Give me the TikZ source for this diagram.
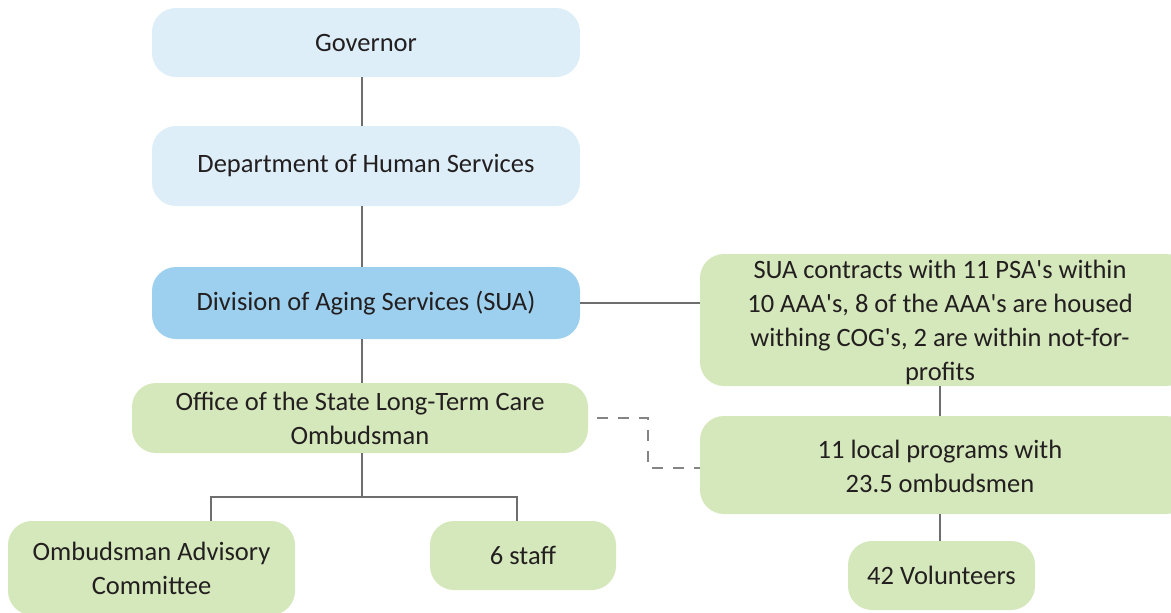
\documentclass[tikz,border=0pt]{standalone}
\usepackage{fontspec}
\setmainfont{Carlito}
\definecolor{lblue}{HTML}{DDEEF8}
\definecolor{mblue}{HTML}{9DD0EE}
\definecolor{lgreen}{HTML}{D5E8BB}
\definecolor{lineg}{HTML}{6E6E6E}
\definecolor{txt}{HTML}{231F20}
\newcommand{\apo}{\textquotesingle}
\tikzset{
  box/.style={rounded corners=24pt, inner sep=0pt, align=center, text=txt,
    font=\fontsize{26.5}{34}\selectfont},
  lb/.style={box, fill=lblue},
  mb/.style={box, fill=mblue},
  gb/.style={box, fill=lgreen},
  tx/.style={text=txt, font=\fontsize{26.5}{34}\selectfont, align=center, inner sep=0pt},
  conn/.style={draw=lineg, line width=2pt},
  dconn/.style={draw=lineg!85, line width=2.2pt, dash pattern=on 11pt off 10pt}
}
\begin{document}
\begin{tikzpicture}[x=1pt,y=-1pt]
\useasboundingbox (0,0) rectangle (1171,613);
\clip (0,0) rectangle (1171,613);
\node[lb, minimum width=428pt, minimum height=69pt] (gov) at (366,42.5) {Governor};
\node[lb, minimum width=428pt, minimum height=80pt] (dhs) at (366,166) {Department of Human Services};
\node[mb, minimum width=428pt, minimum height=72pt] (das) at (366,303) {Division of Aging Services (SUA)};
\node[gb, minimum width=456pt, minimum height=70pt] (off) at (360,418) {Office of the State Long-Term Care\\Ombudsman};
\node[gb, minimum width=287pt, minimum height=94pt] (adv) at (151.5,568) {Ombudsman Advisory\\Committee};
\node[gb, minimum width=186pt, minimum height=69pt] (staff) at (523,555.5) {6 staff};
\node[gb, minimum width=490pt, minimum height=132pt] (sua) at (945,320) {};
\node[tx] (suat) at (940,322) {SUA contracts with 11 PSA\apo s within\\10 AAA\apo s, 8 of the AAA\apo s are housed\\withing COG\apo s, 2 are within not-for-\\profits};
\node[gb, minimum width=490pt, minimum height=98pt] (loc) at (945,465) {};
\node[tx] (loct) at (940,466) {11 local programs with\\23.5 ombudsmen};
\node[gb, minimum width=187pt, minimum height=69pt] (vol) at (941.5,575.5) {42 Volunteers};
\coordinate (jn) at (362,497);
\coordinate (da) at (597,418);
\coordinate (db) at (648,418);
\coordinate (dc) at (648,468);
\draw[conn] (gov.south -| jn) -- (dhs.north -| jn);
\draw[conn] (dhs.south -| jn) -- (das.north -| jn);
\draw[conn] (das.south -| jn) -- (off.north -| jn);
\draw[conn] (off.south -| jn) -- (jn);
\draw[conn] (adv.north -| 211,0) -- (211,497) -- (517,497) -- (staff.north -| 517,0);
\draw[conn] (das.east) -- (sua.west |- das.east);
\draw[conn] (sua.south -| suat) -- (loc.north -| suat);
\draw[conn] (loc.south -| suat) -- (vol.north -| suat);
\draw[dconn] (da) -- (db) -- (dc) -- (loc.west |- dc);
\end{tikzpicture}
\end{document}
